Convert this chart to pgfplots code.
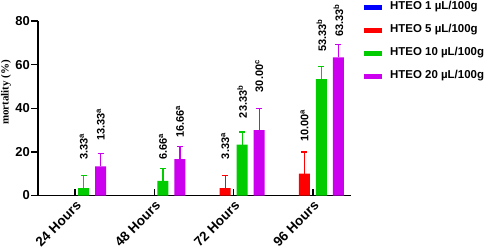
\documentclass[border=0pt]{standalone}
\usepackage{pgfplots}
\pgfplotsset{compat=1.18}
\usepackage{fontspec}
\setmainfont{Liberation Sans}
\newfontfamily\serifb{Liberation Serif}
\definecolor{cblue}{RGB}{0,0,255}
\definecolor{cred}{RGB}{255,0,0}
\definecolor{cgreen}{RGB}{0,204,0}
\definecolor{cmag}{RGB}{204,0,238}
\begin{document}
\begin{tikzpicture}
\begin{axis}[name=ax, scale only axis, width=313bp, height=174.5bp,
  xmin=-0.47, xmax=3.48, ymin=0, ymax=80,
  axis lines=left, axis line style={-, line width=1.5bp},
  ybar, bar width=11bp,
  ytick={0,20,40,60,80},
  xtick={0,1,2,3}, xticklabels={24 Hours,48 Hours,72 Hours,96 Hours},
  tick align=outside, major tick length=7bp,
  tick style={black, line width=1.5bp},
  xtick style={yshift=7bp},
  /pgf/number format/assume math mode=true,
  yticklabel style={font=\bfseries\fontsize{13}{13}\selectfont, inner sep=1bp},
  xticklabel style={font=\bfseries\fontsize{13.5}{13.5}\selectfont, rotate=45, anchor=north east, inner sep=1bp, xshift=3bp, yshift=3bp},
  ylabel={mortality (\%)},
  ylabel style={font=\serifb\bfseries\fontsize{11}{11}\selectfont, at={(axis description cs:-0.102,0.59)}, anchor=center},
  legend style={at={(1,1)}, anchor=north west, xshift=12.5bp, yshift=19bp, draw=none, fill=none, inner sep=0pt, row sep=13bp, column sep=8.5bp, font=\bfseries\fontsize{11.5}{11.5}\selectfont, nodes={inner sep=0pt, text height=7.5bp, text depth=2.5bp}},
  legend cell align=left,
  legend image code/.code={\fill[#1] (0bp,-2.5bp) rectangle (18bp,2.5bp);},
  error bars/y dir=plus, error bars/y explicit,
  nodes near coords align=horizontal,
]
\addlegendimage{fill=cblue, draw=none}
\addlegendentry{HTEO 1 µL/100g}
\addplot[fill=cred, draw=none, bar shift=-8.5bp,
  error bars/error bar style={cred, line width=1.3bp},
  error bars/error mark options={cred, rotate=90, mark size=3bp, line width=1.3bp}]
  coordinates {(2,3.33) +- (0,5.77) (3,10.00) +- (0,10.00)};
\addlegendentry{HTEO 5 µL/100g}
\addplot[fill=cgreen, draw=none, bar shift=8.5bp,
  error bars/error bar style={cgreen, line width=1.3bp},
  error bars/error mark options={cgreen, rotate=90, mark size=3bp, line width=1.3bp}]
  coordinates {(0,3.33) +- (0,5.77) (1,6.66) +- (0,5.77) (2,23.33) +- (0,5.77) (3,53.33) +- (0,5.77)};
\addlegendentry{HTEO 10 µL/100g}
\addplot[fill=cmag, draw=none, bar shift=25.5bp,
  error bars/error bar style={cmag, line width=1.3bp},
  error bars/error mark options={cmag, rotate=90, mark size=3bp, line width=1.3bp}]
  coordinates {(0,13.33) +- (0,5.77) (1,16.66) +- (0,5.77) (2,30.00) +- (0,10.00) (3,63.33) +- (0,5.77)};
\addlegendentry{HTEO 20 µL/100g}
% value labels (placed above the error bars)
\addplot[draw=none, fill=none, forget plot, bar shift=-8.5bp, error bars/y explicit=false,
  nodes near coords, point meta=explicit symbolic,
  nodes near coords style={rotate=90, anchor=west, inner sep=0pt, font=\bfseries\fontsize{11}{11}\selectfont}]
  coordinates {(2,16.6) [3.33\textsuperscript{a}] (3,24.7) [10.00\textsuperscript{a}]};
\addplot[draw=none, fill=none, forget plot, bar shift=8.5bp, error bars/y explicit=false,
  nodes near coords, point meta=explicit symbolic,
  nodes near coords style={rotate=90, anchor=west, inner sep=0pt, font=\bfseries\fontsize{11}{11}\selectfont}]
  coordinates {(0,16.3) [3.33\textsuperscript{a}] (1,16.3) [6.66\textsuperscript{a}] (2,35.4) [23.33\textsuperscript{b}] (3,65.7) [53.33\textsuperscript{b}]};
\addplot[draw=none, fill=none, forget plot, bar shift=25.5bp, error bars/y explicit=false,
  nodes near coords, point meta=explicit symbolic,
  nodes near coords style={rotate=90, anchor=west, inner sep=0pt, font=\bfseries\fontsize{11}{11}\selectfont}]
  coordinates {(0,25.1) [13.33\textsuperscript{a}] (1,26.5) [16.66\textsuperscript{a}] (2,47.3) [30.00\textsuperscript{c}] (3,72.8) [63.33\textsuperscript{b}]};
\end{axis}
\pgfresetboundingbox
\path (ax.south west) ++(-38bp,-53.5bp) rectangle ++(484bp,249bp);
\end{tikzpicture}
\end{document}
